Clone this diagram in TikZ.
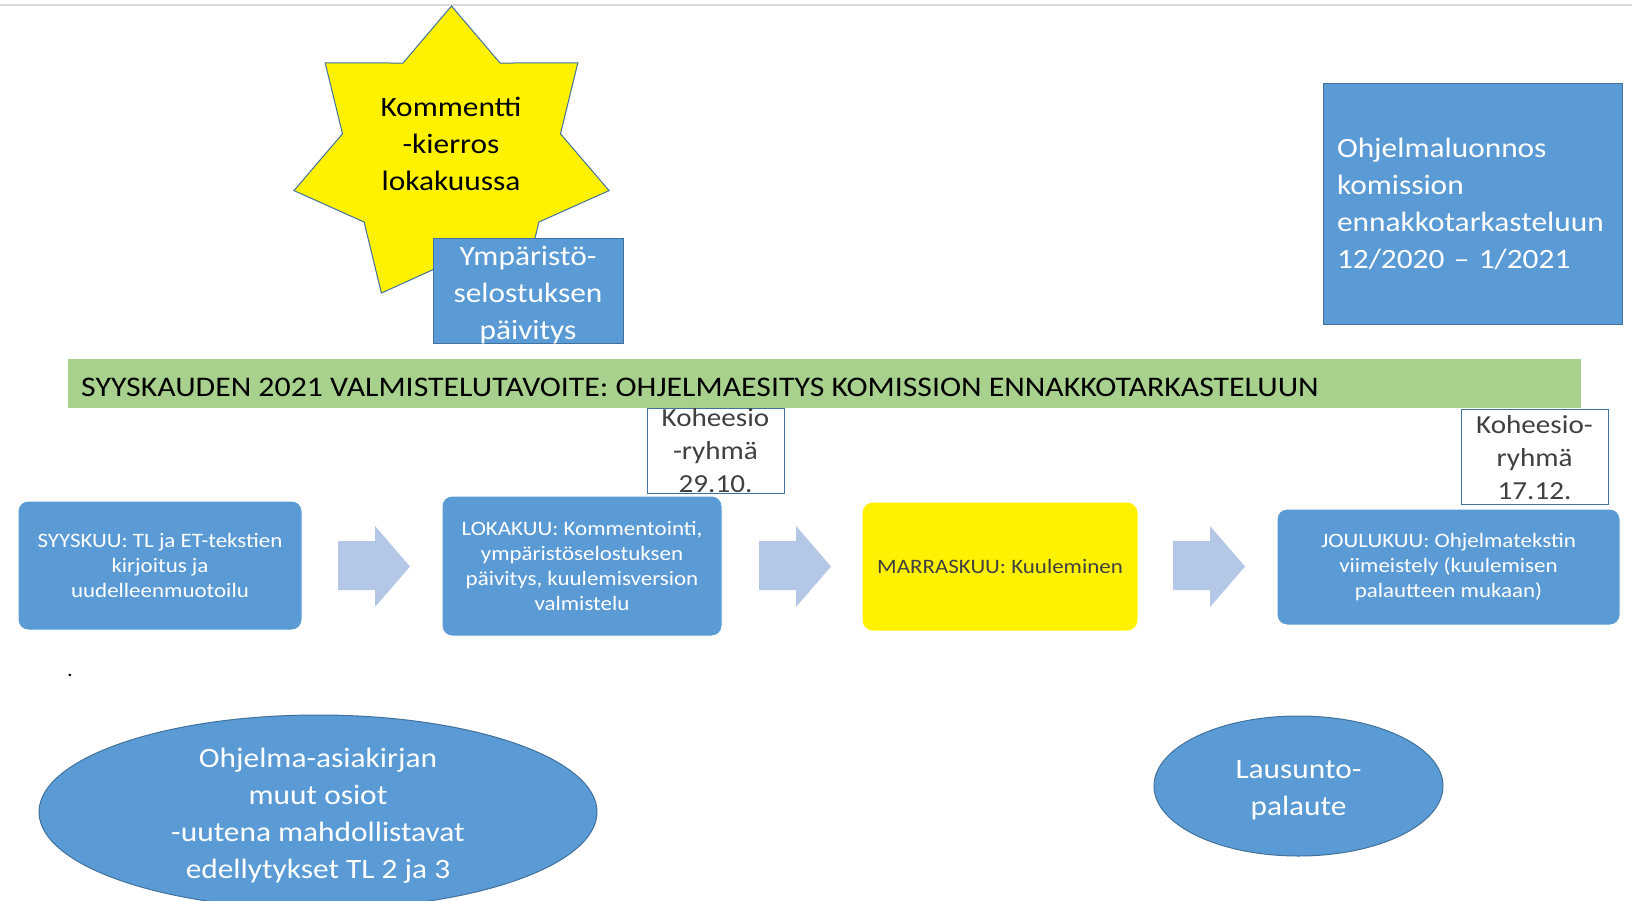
\documentclass[tikz,border=0pt]{standalone}
\usepackage{fontspec}
\setmainfont{Carlito}[FakeStretch=1.12]
\usetikzlibrary{shapes.geometric}

\definecolor{boxblue}{HTML}{5B9BD5}
\definecolor{edgeblue}{HTML}{41719C}
\definecolor{arrowblue}{HTML}{B4C7E7}
\definecolor{bannergreen}{HTML}{A9D18E}
\definecolor{textgray}{HTML}{404040}

\tikzset{
  bluebox/.style={draw=edgeblue, fill=boxblue, line width=1},
  stagebox/.style={fill=boxblue, draw=white, line width=1, rounded corners=10,
    text=white, align=center, font=\fontsize{20.5}{25}\selectfont},
  bigtext/.style={align=center, font=\fontsize{28}{37}\selectfont},
  meetbox/.style={draw=edgeblue, fill=white, line width=1},
  meettext/.style={align=center, text=textgray, font=\fontsize{26}{33}\selectfont},
  oval/.style={ellipse, bluebox, text=white, align=center, font=\fontsize{28}{37}\selectfont}
}

\begin{document}
\begin{tikzpicture}[x=1pt, y=-1pt]
        \useasboundingbox (0, 0) rectangle (1632, 901);
        \clip (0, 0) rectangle (1632, 901);

        \draw[gray!30, line width=1.5] (0, 5) -- (1632, 5);

        \begin{scope}[shift={(451.5, 157)}]
            \draw[fill=yellow, draw=edgeblue, line width=1] (0, -151)
                \foreach \i [evaluate=\i as \rx using {mod(\i,2)==0 ? 161.6 : 111.8},
                             evaluate=\i as \ry using {mod(\i,2)==0 ? 151 : 104.3}] in {1,...,13} {
                    -- ({\rx*cos(-90 + \i*360/14)}, {\ry*sin(-90 + \i*360/14)})
                } -- cycle;
        \end{scope}
        \node[bigtext] (kierros) at (451, 144) {Kommentti\\-kierros\\lokakuussa};

        \node[bluebox, minimum width=190, minimum height=104] (ymparisto) at (528, 291) {};
        \node[bigtext, text=white] at ([yshift=-4]ymparisto.center) {Ympäristö-\\selostuksen\\päivitys};

        \node[bluebox, minimum width=299, minimum height=241, text width=271, inner xsep=14,
              align=left, text=white, font=\fontsize{28}{37}\selectfont] (ennakko) at (1472.5, 204)
              {Ohjelmaluonnos\\komission\\ennakkotarkasteluun\\12/2020 -- 1/2021};

        \node[fill=bannergreen, minimum width=1513, minimum height=49] (tavoite) at (824.5, 383.5) {};
        \node[anchor=base west, inner sep=0, font=\fontsize{28.4}{35}\selectfont] (tavoiteteksti) at (81, 396)
              {SYYSKAUDEN 2021 VALMISTELUTAVOITE: OHJELMAESITYS KOMISSION ENNAKKOTARKASTELUUN};

        \node[stagebox, minimum width=284, minimum height=129] (syyskuu) at (160, 565.5)
              {SYYSKUU: TL ja ET-tekstien\\kirjoitus ja\\uudelleenmuotoilu};
        \node[stagebox, minimum width=280, minimum height=140] (lokakuu) at (582, 566)
              {LOKAKUU: Kommentointi,\\ympäristöselostuksen\\päivitys, kuulemisversion\\valmistelu};
        \node[stagebox, fill=yellow, draw=yellow, text=textgray, minimum width=274, minimum height=127]
              (marraskuu) at (1000, 566.5) {MARRASKUU: Kuuleminen};
        \node[stagebox, minimum width=343, minimum height=116] (joulukuu) at (1448.5, 567)
              {JOULUKUU: Ohjelmatekstin\\viimeistely (kuulemisen\\palautteen mukaan)};

        \foreach \ax in {338, 759, 1173}
            \fill[arrowblue] (\ax, 541) -- ++(37, 0) -- ++(0, -15) -- ++(35, 40.5)
                -- ++(-35, 40.5) -- ++(0, -17) -- ++(-37, 0) -- cycle;

        \node[meetbox, minimum width=137, minimum height=85] (koheesio1) at (715.5, 450.5) {};
        \node[meettext] at (koheesio1.center) {Koheesio\\-ryhmä\\29.10.};
        \node[meetbox, minimum width=147, minimum height=95] (koheesio2) at (1534.5, 456.5) {};
        \node[meettext] at ([yshift=-1]koheesio2.center) {Koheesio-\\ryhmä\\17.12.};

        \node[font=\fontsize{20}{24}\selectfont] (piste) at (70, 675) {.};

        \node[oval, minimum width=558, minimum height=194] (osiot) at (318, 812) {};
        \node[bigtext, text=white] at ([yshift=-4]osiot.center)
              {Ohjelma-asiakirjan\\muut osiot\\-uutena mahdollistavat\\edellytykset TL 2 ja 3};
        \node[oval, minimum width=289, minimum height=140] (lausunto) at (1298.5, 786) {};
        \node[bigtext, text=white] at ([yshift=-4]lausunto.center) {Lausunto-\\palaute};
    \end{tikzpicture}
\end{document}
